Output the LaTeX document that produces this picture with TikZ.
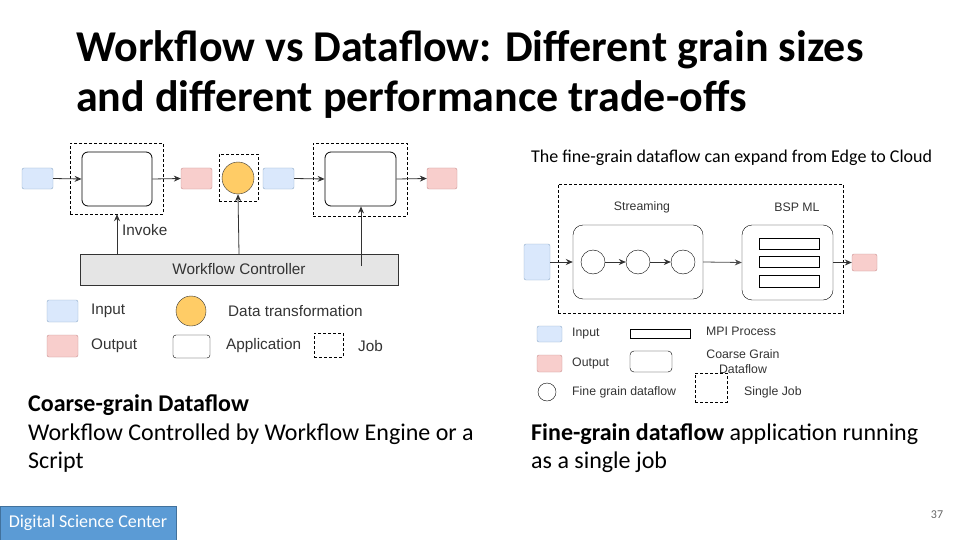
\documentclass[tikz,border=0pt]{standalone}
\usepackage{fontspec}
\setmainfont{Carlito}
\newfontfamily\arialf{Liberation Sans}
\usetikzlibrary{arrows.meta}
\definecolor{inblue}{HTML}{DAE8FC}
\definecolor{inblueb}{HTML}{8EA9C8}
\definecolor{outred}{HTML}{F8CECC}
\definecolor{outredb}{HTML}{C89090}
\definecolor{orng}{HTML}{FFCC66}
\definecolor{dscfill}{HTML}{5B9BD5}
\definecolor{dscb}{HTML}{41719C}
\begin{document}
\begin{tikzpicture}[x=1pt,y=-1pt,
  inbox/.style={draw=inblueb,fill=inblue,rounded corners=2pt},
  outbox/.style={draw=outredb,fill=outred,rounded corners=2pt},
  appbox/.style={draw=black,rounded corners=6pt,thick},
  jobbox/.style={draw=black,densely dashed},
  arr/.style={-{Stealth[length=7pt,width=6pt]},thick,draw=black!80},
  lbl/.style={font=\arialf\fontsize{15.3}{17}\selectfont,text=black!80,inner sep=0pt},
  slbl/.style={font=\arialf\fontsize{12.3}{14}\selectfont,text=black!80,inner sep=0pt},
  body/.style={font=\fontsize{24}{28}\selectfont,inner sep=0pt,anchor=west}]
\useasboundingbox (0,0) rectangle (960,540);
% title
\node[anchor=west,inner sep=0pt,font=\bfseries\fontsize{44}{52}\selectfont] (t1) at (76,50) {Workflow vs Dataflow: Different grain sizes};
\node[anchor=west,inner sep=0pt,font=\bfseries\fontsize{44}{52}\selectfont] (t2) at (76,100) {and different performance trade-offs};
% left diagram
\node[inbox,minimum width=31,minimum height=21,inner sep=0] (i1) at (37.5,178.5) {};
\node[jobbox,minimum width=93,minimum height=71,inner sep=0] (j1) at (116.5,178.5) {};
\node[appbox,minimum width=70,minimum height=54,inner sep=0] (a1) at (117,179) {};
\node[outbox,minimum width=31,minimum height=21,inner sep=0] (o1) at (196.5,178.5) {};
\node[jobbox,minimum width=39,minimum height=47,inner sep=0] (j2) at (238.5,177.5) {};
\node[circle,draw=black!80,fill=orng,minimum size=32,inner sep=0] (c1) at (238,178) {};
\node[inbox,minimum width=31,minimum height=21,inner sep=0] (i2) at (278.5,178.5) {};
\node[jobbox,minimum width=94,minimum height=73,inner sep=0] (j3) at (360,179.5) {};
\node[appbox,minimum width=71,minimum height=54,inner sep=0] (a3) at (360.5,179) {};
\node[outbox,minimum width=30,minimum height=21,inner sep=0] (o3) at (442,178.5) {};
\node[draw=black!80,fill=black!10,minimum width=318,minimum height=31,inner sep=0,lbl] (wc) at (239,269.5) {Workflow Controller};
\draw[arr] (i1.east) -- (a1.west);
\draw[arr] (a1.east) -- (o1.west);
\draw[arr] (i2.east) -- (a3.west);
\draw[arr] (a3.east) -- (o3.west);
\draw[arr] (wc.north -| 117,0) -- (j1.south -| 117,0);
\draw[arr] (wc.north) -- (c1.south);
\coordinate (wcin) at (361,266);
\draw[arr] (wcin) -- (a3.south -| 361,0);
\node[lbl,anchor=west] (inv) at (122,230) {Invoke};
% left legend
\node[inbox,minimum width=31,minimum height=22,inner sep=0] (li) at (62.5,311) {};
\node[lbl,anchor=west] at (91,311) {Input};
\node[circle,draw=black!80,fill=orng,minimum size=30,inner sep=0] (lc) at (191,311) {};
\node[lbl,anchor=west] at (228,311) {Data transformation};
\node[outbox,minimum width=31,minimum height=22,inner sep=0] (lo) at (62.5,346) {};
\node[lbl,anchor=west] at (91,346) {Output};
\node[draw=black,rounded corners=3pt,minimum width=37,minimum height=23,inner sep=0] (la) at (191.5,346.5) {};
\node[lbl,anchor=west] at (226,346) {Application};
\node[jobbox,minimum width=29,minimum height=24,inner sep=0] (lj) at (328.5,345) {};
\node[lbl,anchor=west] at (358,346) {Job};
% right diagram
\node[anchor=west,inner sep=0pt,font=\fontsize{18}{21}\selectfont] (edge) at (531,158) {The fine-grain dataflow can expand from Edge to Cloud};
\node[jobbox,minimum width=285,minimum height=129,inner sep=0] (sj) at (700.5,248.5) {};
\node[slbl] at (642,207) {Streaming};
\node[slbl] at (797,207) {BSP ML};
\node[draw=black,rounded corners=10pt,minimum width=130,minimum height=74,inner sep=0] (sb) at (638,262) {};
\node[draw=black,rounded corners=10pt,minimum width=91,minimum height=75,inner sep=0] (bb) at (787.5,262.5) {};
\node[circle,draw=black,minimum size=24,inner sep=0] (f1) at (593,262) {};
\node[circle,draw=black,minimum size=24,inner sep=0] (f2) at (638,262) {};
\node[circle,draw=black,minimum size=24,inner sep=0] (f3) at (683,262) {};
\node[draw=black,minimum width=60,minimum height=11,inner sep=0] (m1) at (789,243.5) {};
\node[draw=black,minimum width=60,minimum height=11,inner sep=0] (m2) at (789,261.5) {};
\node[draw=black,minimum width=60,minimum height=12,inner sep=0] (m3) at (789,281) {};
\node[inbox,minimum width=26,minimum height=36,inner sep=0] (ri) at (537,262) {};
\node[outbox,minimum width=25,minimum height=17,inner sep=0] (ro) at (864.5,262.5) {};
\draw[arr] (ri.east) -- (sb.west);
\draw[arr] (f1) -- (f2);
\draw[arr] (f2) -- (f3);
\draw[arr,draw=black!70] (sb.east) -- (bb.west);
\draw[arr] (bb.east) -- (ro.west);
% right legend
\node[inbox,minimum width=25,minimum height=16,inner sep=0] (rli) at (549.5,334) {};
\node[slbl,anchor=west] at (572,334) {Input};
\node[outbox,minimum width=25,minimum height=17,inner sep=0] (rlo) at (549.5,363.5) {};
\node[slbl,anchor=west] at (572,363) {Output};
\node[circle,draw=black,minimum size=18,inner sep=0] (rlc) at (547,392) {};
\node[slbl,anchor=west] at (572,392) {Fine grain dataflow};
\node[draw=black,minimum width=60,minimum height=9,inner sep=0] (rlm) at (660,333.5) {};
\node[slbl,anchor=west] at (706,331) {MPI Process};
\node[draw=black,rounded corners=4pt,minimum width=42,minimum height=21,inner sep=0] (rlg) at (651,361.5) {};
\node[slbl] at (743,354) {Coarse Grain};
\node[slbl] at (743,369) {Dataflow};
\node[jobbox,minimum width=32,minimum height=29,inner sep=0] (rlj) at (711,387.5) {};
\node[slbl,anchor=west] at (744,392) {Single Job};
% bottom texts
\node[body,font=\bfseries\fontsize{24}{28}\selectfont] at (28,405) {Coarse-grain Dataflow};
\node[body] at (28,434) {Workflow Controlled by Workflow Engine or a};
\node[body] at (28,462) {Script};
\node[body] at (531,434) {\textbf{Fine-grain dataflow} application running};
\node[body] at (531,462) {as a single job};
% footer
\node[draw=dscb,fill=dscfill,minimum width=176,minimum height=34,inner sep=0,text=white,font=\fontsize{18}{21}\selectfont] (dsc) at (88,523) {Digital Science Center};
\node[font=\fontsize{12}{14}\selectfont,text=black!60,inner sep=0] (pg) at (937,515) {37};
\end{tikzpicture}
\end{document}
